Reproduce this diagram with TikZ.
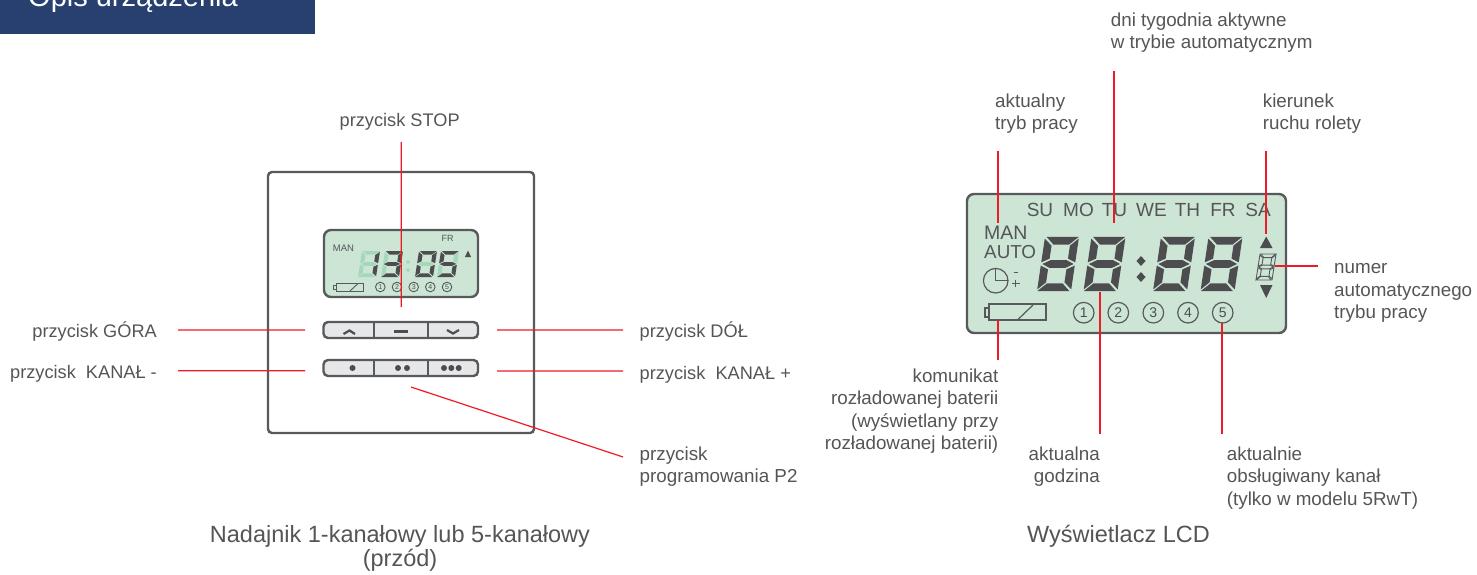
\documentclass[tikz,border=0pt]{standalone}
\usepackage{fontspec}
\setmainfont{Liberation Sans}
\definecolor{navy}{HTML}{27406F}
\definecolor{txt}{HTML}{4D4D4F}
\definecolor{lbl}{HTML}{555557}
\definecolor{edge}{HTML}{58595B}
\definecolor{lcd}{HTML}{CCE5D5}
\definecolor{ghost}{HTML}{A5D8BB}
\definecolor{keyc}{HTML}{E6E7E8}
\definecolor{leader}{HTML}{ED1C24}
\newcommand\fs[1]{\fontsize{#1bp}{#1bp}\selectfont}
\tikzset{
 x=1bp,y=-1bp,
 lab/.style={inner sep=0pt,text=lbl,font=\fs{18.8},align=left,anchor=base west,execute at begin node=\setlength{\baselineskip}{22.4bp}},
 labr/.style={lab,align=right,anchor=base east},
 labcaps/.style={font=\fs{18.2}},
 lcdt/.style={inner sep=0pt,text=lbl},
 captxt/.style={inner sep=0pt,text=lbl,font=\fs{23.5},align=center,anchor=base,execute at begin node=\setlength{\baselineskip}{24bp}},
 con/.style={draw=leader,line width=1.2bp},
 boxframe/.style={draw=edge,line width=2.4bp,rounded corners=4bp,fill=white},
 lcdbox/.style={draw=edge,line width=2.4bp,rounded corners=7bp,fill=lcd},
 keybar/.style={draw=edge,line width=2.4bp,rounded corners=4.5bp,fill=keyc},
 keydiv/.style={draw=edge,line width=2.4bp},
 ico/.style={draw=txt,line width=2.2bp},
 digseg/.style={draw=none},
 thinl/.style={draw=edge,line width=.9bp},
}
\def\digW{34}\def\digH{54}\def\digS{8}
% x, y of lower left, colours a b c d e f g
\newcommand\sevseg[9]{%
\begin{scope}[shift={(#1,#2)},x={(\digW bp,0bp)},y={(\digS bp,\digH bp)}]
\path[fill=#3,digseg] (.05,1)--(.99,1)--(.74,.86)--(.28,.86)--cycle;
\path[fill=#4,digseg] (1,.97)--(.77,.84)--(.77,.6)--(1,.53)--cycle;
\path[fill=#5,digseg] (1,.47)--(.77,.4)--(.77,.16)--(1,.03)--cycle;
\path[fill=#6,digseg] (.01,0)--(.95,0)--(.72,.14)--(.26,.14)--cycle;
\path[fill=#7,digseg] (0,.47)--(.23,.4)--(.23,.16)--(0,.03)--cycle;
\path[fill=#8,digseg] (0,.97)--(.23,.84)--(.23,.6)--(0,.53)--cycle;
\path[fill=#9,digseg] (.04,.5)--(.26,.57)--(.74,.57)--(.96,.5)--(.74,.43)--(.26,.43)--cycle;
\end{scope}}
\newcommand\alleight[2]{\sevseg{#1}{#2}{txt}{txt}{txt}{txt}{txt}{txt}{txt}}
\begin{document}
\begin{tikzpicture}
\useasboundingbox (0,0) rectangle (1477,575);
% header
\fill[navy] (0,-1) rectangle (315,33.7);
\begin{scope}
\clip (0,0) rectangle (1477,575);
\node[anchor=base west,inner sep=0pt,text=white,font=\fs{29}] (head) at (28,7) {Opis urządzenia};
\end{scope}

% ---- left device
\path[boxframe] (268,172) rectangle (534,433);
\path[lcdbox] (324,230) rectangle (478,297);
\node[lcdt,font=\fs{9.5}] (fmanl) at (343.5,248.5) {MAN};
\node[lcdt,font=\fs{9}] (ffr) at (447.5,238) {FR};
\fill[txt] (465,257) -- (471,257) -- (468,250.5) -- cycle;
\def\digW{18}\def\digH{26}\def\digS{4}
\sevseg{358}{277}{ghost}{txt}{txt}{ghost}{ghost}{ghost}{ghost}
\sevseg{381}{277}{txt}{txt}{txt}{txt}{ghost}{ghost}{txt}
\sevseg{415}{277}{txt}{txt}{txt}{txt}{txt}{txt}{ghost}
\sevseg{437}{277}{txt}{ghost}{txt}{txt}{ghost}{txt}{txt}
\fill[ghost] (408,259.8)--(410.2,262)--(408,264.2)--(405.8,262)--cycle
             (408,267.8)--(410.2,270)--(408,272.2)--(405.8,270)--cycle;
\path[thinl] (336,283) rectangle (363,291);
\path[thinl] (333,285) rectangle (336,289.5);
\path[thinl] (350,291) -- (358,283.5);
\foreach \n/\cx in {1/380.3,2/397,3/413.7,4/430.3,5/447}{
 \node[circle,draw=edge,line width=.9bp,minimum size=9.6bp,inner sep=0pt,text=txt,font=\fs{7}] (fc\n) at (\cx,287) {\n};
}
% keys
\path[keybar] (323.5,322) rectangle (478,338);
\path[keydiv] (374,322) -- (374,338) (428,322) -- (428,338);
\path[keybar] (323.5,360) rectangle (478,376);
\path[keydiv] (374,360) -- (374,376) (428,360) -- (428,376);
\path[ico] (343.5,334) -- (349.5,330.5) -- (355,334);
\path[ico] (394,331.5) -- (408,331.5);
\path[ico] (447,330) -- (453,333.5) -- (459,330);
\fill[txt] (352.5,368) circle (3bp) (398,368) circle (3bp) (407,368) circle (3bp)
 (444,368) circle (3bp) (451.3,368) circle (3bp) (458.7,368) circle (3bp);
% labels left
\node[lab,labcaps] (stop) at (339.5,126.5) {przycisk STOP};
\node[labr,labcaps] (gora) at (157,337.5) {przycisk GÓRA};
\node[labr,labcaps] (kanm) at (157,378) {przycisk\ \ KANAŁ -};
\node[lab,labcaps] (dol) at (639.5,337.5) {przycisk DÓŁ};
\node[lab,labcaps] (kanp) at (639.5,379) {przycisk\ \ KANAŁ +};
\node[lab] (prog) at (639.5,482.5) {przycisk\\programowania P2};
\node[captxt] (capl) at (400,566) {Nadajnik 1-kanałowy lub 5-kanałowy\\(przód)};
% connectors left
\coordinate (c1a) at (401.3,142); \coordinate (c1b) at (401.3,307);
\coordinate (c2a) at (178,330); \coordinate (c2b) at (305,330);
\coordinate (c3a) at (178,370.7); \coordinate (c3b) at (305,370.7);
\coordinate (c4a) at (497,330); \coordinate (c4b) at (623,330);
\coordinate (c5a) at (497,371); \coordinate (c5b) at (623,371);
\coordinate (c6a) at (411,387); \coordinate (c6b) at (623,457);
\path[con] (c1a)--(c1b) (c2a)--(c2b) (c3a)--(c3b) (c4a)--(c4b) (c5a)--(c5b) (c6a)--(c6b);

% ---- right LCD
\path[lcdbox] (967,194) rectangle (1286,333);
\foreach \t/\cx in {SU/1040,MO/1078.5,TU/1114.5,WE/1151.5,TH/1187.5,FR/1223,SA/1258}{
 \node[lcdt,font=\fs{19}] (d\t) at (\cx,210) {\t};
}
\node[lcdt,font=\fs{19.5},anchor=west] (man) at (984,233) {MAN};
\node[lcdt,font=\fs{18.8},anchor=west] (auto) at (984,252) {AUTO};
\def\digW{34}\def\digH{54}\def\digS{8}
\alleight{1037}{291}
\alleight{1083.5}{291}
\alleight{1153}{291}
\alleight{1200.5}{291}
\fill[txt] (1141,256)--(1145.5,261)--(1141,266)--(1136.5,261)--cycle
           (1141,272)--(1145.5,277)--(1141,282)--(1136.5,277)--cycle;
% clock
\path[draw=edge,line width=1.2bp] (995.7,280.7) circle (12.3bp);
\path[draw=edge,line width=1.2bp] (995.7,268.4) -- (995.7,280.7) -- (1008,280.7);
\path[draw=edge,line width=1.3bp] (1013.5,272.5) -- (1018,272.5) (1012,283.5) -- (1019.5,283.5) (1015.7,279.7) -- (1015.7,287.3);
% battery
\path[draw=edge,line width=1.2bp] (989,304) rectangle (1046,320);
\path[draw=edge,line width=1.2bp] (985,308) rectangle (989,317);
\path[draw=edge,line width=1.2bp] (1018,319.5) -- (1033,305);
\foreach \n/\cx in {1/1083.7,2/1118.3,3/1153.3,4/1188,5/1222.7}{
 \node[circle,draw=edge,line width=1.2bp,minimum size=20.6bp,inner sep=0pt,text=txt,font=\fs{14}] (rc\n) at (\cx,312.7) {\n};
}
% triangles, mode digit
\fill[txt] (1260,248)--(1272.5,248)--(1266.2,236.5)--cycle;
\fill[txt] (1260,285)--(1272.5,285)--(1266.2,298)--cycle;
\def\digW{16}\def\digH{26}\def\digS{4}
\tikzset{digseg/.style={draw=edge,line width=.9bp}}
\sevseg{1256}{280}{none}{none}{none}{none}{none}{none}{none}
\tikzset{digseg/.style={draw=none}}
% labels right
\node[lab] (dni) at (1110.7,48.5) {dni tygodnia aktywne\\w trybie automatycznym};
\node[lab] (akt) at (995,129.5) {aktualny\\tryb pracy};
\node[lab] (kier) at (1262.7,129.5) {kierunek\\ruchu rolety};
\node[lab] (num) at (1334,318.5) {numer\\automatycznego\\trybu pracy};
\node[labr] (kom) at (998.5,449.5) {komunikat\\rozładowanej baterii\\(wyświetlany przy\\rozładowanej baterii)};
\node[labr] (godz) at (1100,482.5) {aktualna\\godzina};
\node[lab] (kan) at (1226.7,505) {aktualnie\\obsługiwany kanał\\(tylko w modelu 5RwT)};
\node[captxt] (capr) at (1118.5,542.5) {Wyświetlacz LCD};
% connectors right
\coordinate (r1a) at (998,151); \coordinate (r1b) at (998,223);
\coordinate (r2a) at (1114,71); \coordinate (r2b) at (1114,223);
\coordinate (r3a) at (1266,151); \coordinate (r3b) at (1266,234);
\coordinate (r4a) at (1275,266); \coordinate (r4b) at (1318,266);
\coordinate (r5a) at (998,320); \coordinate (r5b) at (998,360);
\coordinate (r6a) at (1100,292); \coordinate (r6b) at (1100,434);
\coordinate (r7a) at (1222,323); \coordinate (r7b) at (1222,434);
\path[con] (r1a)--(r1b) (r2a)--(r2b) (r3a)--(r3b) (r4a)--(r4b) (r5a)--(r5b) (r6a)--(r6b) (r7a)--(r7b);
\end{tikzpicture}
\end{document}
